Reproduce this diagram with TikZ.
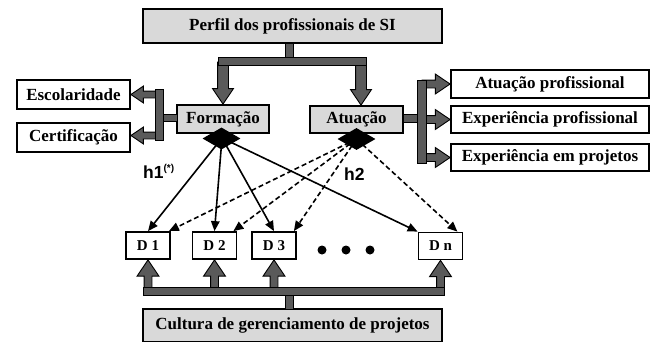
\documentclass[tikz,border=0pt]{standalone}
\usepackage{fontspec}
\setmainfont{Liberation Serif}
\newfontfamily\hfont{Liberation Sans}
\usetikzlibrary{arrows.meta,shapes.geometric,shapes.arrows}

\definecolor{boxgray}{HTML}{D9D9D9}
\definecolor{bargray}{HTML}{5A5A5A}

\tikzset{
  box/.style={draw, line width=1.8pt, fill=white, inner sep=0pt,
    font=\fontsize{17}{20}\selectfont\bfseries},
  graybox/.style={box, fill=boxgray},
  dbox/.style={box, minimum width=44pt, minimum height=27pt,
    font=\fontsize{15}{18}\selectfont\bfseries},
  bar/.style={draw, line width=0.9pt, fill=bargray},
  blk/.style={single arrow, draw, line width=0.9pt, fill=bargray,
    inner xsep=0pt, inner ysep=3.5pt, outer sep=0pt,
    single arrow head extend=7pt, single arrow tip angle=68},
  hub/.style={diamond, fill=black, inner sep=0pt, minimum width=38pt, minimum height=22pt},
  solidlink/.style={line width=1.6pt, -{Triangle[length=10pt,width=8.5pt]}},
  dashlink/.style={solidlink, dash pattern=on 5pt off 3pt},
  hlabel/.style={font=\hfont\fontsize{17.5}{20}\selectfont\bfseries, inner sep=0pt},
  dot/.style={circle, fill, inner sep=0pt, minimum size=9pt}
}

\begin{document}
\begin{tikzpicture}[x=1pt, y=-1pt]
  \useasboundingbox (0,0) rectangle (654,341);

  \node[graybox, minimum width=299pt, minimum height=34pt] (perfil) at (292.5,26) {Perfil dos profissionais de SI};
  \node[graybox, minimum width=92pt, minimum height=28pt] (form) at (223,119) {Formação};
  \node[graybox, minimum width=93pt, minimum height=27pt] (atu) at (356.5,119.5) {Atuação};
  \node[box, minimum width=113pt, minimum height=29pt] (esc) at (73.5,94.5) {Escolaridade};
  \node[box, minimum width=113pt, minimum height=29pt] (cert) at (73.5,137.5) {Certificação};
  \node[box, minimum width=198pt, minimum height=28pt] (atprof) at (550,84) {Atuação profissional};
  \node[box, minimum width=198pt, minimum height=27pt] (expprof) at (550,119.5) {Experiência profissional};
  \node[box, minimum width=198pt, minimum height=27pt] (expproj) at (550,157.5) {Experiência em projetos};
  \node[dbox] (d1) at (148,245.5) {D 1};
  \node[dbox] (d2) at (214.5,245.5) {D 2};
  \node[dbox] (d3) at (274,245.5) {D 3};
  \node[dbox] (dn) at (440.5,246) {D n};
  \node[graybox, minimum width=299pt, minimum height=33pt] (cultura) at (292.5,325.5) {Cultura de gerenciamento de projetos};

  \node[dot] (dot1) at (322,250) {};
  \node[dot] (dot2) at (346,250) {};
  \node[dot] (dot3) at (370,250) {};

  % perfil -> formacao / atuacao
  \node[blk, inner ysep=5pt, single arrow head extend=5pt, rotate=-90, anchor=tip, minimum height=42pt] (af) at (form.north) {};
  \node[blk, inner ysep=5pt, single arrow head extend=5pt, rotate=-90, anchor=tip, minimum height=43pt] (aa) at ([xshift=4.5pt]atu.north) {};
  \draw[bar] (285,43) rectangle (293,57);
  \draw[bar] (218,57) rectangle (366,65);

  % formacao -> escolaridade / certificacao
  \node[blk, inner ysep=3pt, single arrow head extend=5pt, rotate=180, anchor=tip, minimum height=28pt] (ae) at (esc.east) {};
  \node[blk, inner ysep=3pt, single arrow head extend=5pt, rotate=180, anchor=tip, minimum height=28pt] (ac) at ([yshift=2pt]cert.east) {};
  \draw[bar] (163,114) rectangle (177,121);
  \draw[bar] (155,89) rectangle (163,140);

  % atuacao -> detalhes
  \node[blk, single arrow head extend=6pt, anchor=tip, minimum height=28pt] (ap1) at (atprof.west) {};
  \node[blk, single arrow head extend=6pt, anchor=tip, minimum height=28pt] (ap2) at (expprof.west) {};
  \node[blk, single arrow head extend=6pt, anchor=tip, minimum height=28pt] (ap3) at (expproj.west) {};
  \draw[bar] (403,114) rectangle (417,122);
  \draw[bar] (417,80) rectangle (426,163);

  % cultura -> D
  \foreach \d in {d1,d2,d3,dn}
    \node[blk, rotate=90, anchor=tip, minimum height=30pt] (u\d) at (\d.south) {};
  \draw[bar] (285,295) rectangle (293,309);
  \draw[bar] (143,287) rectangle (444,295);

  % hipoteses
  \draw[solidlink] (222,138) -- (d1.north);
  \draw[solidlink] (222,138) -- (d2.north);
  \draw[solidlink] (222,138) -- (d3.north);
  \draw[solidlink] (222,138) -- (dn.north west);
  \draw[dashlink] (356.5,139) -- ([xshift=-2pt]d1.north east);
  \draw[dashlink] (356.5,139) -- ([xshift=-4pt]d2.north east);
  \draw[dashlink] (356.5,139) -- ([xshift=-3pt]d3.north east);
  \draw[dashlink] (356.5,139) -- ([xshift=-6pt]dn.north east);
  \node[hub] (hf) at (221.5,138.5) {};
  \node[hub] (ha) at (356.5,139) {};

  \node[hlabel, anchor=base west] (h1) at (143,178) {h1\textsuperscript{\fontsize{10}{12}\selectfont(*)}};
  \node[hlabel, anchor=base west] (h2) at (344,180) {h2};
\end{tikzpicture}
\end{document}
